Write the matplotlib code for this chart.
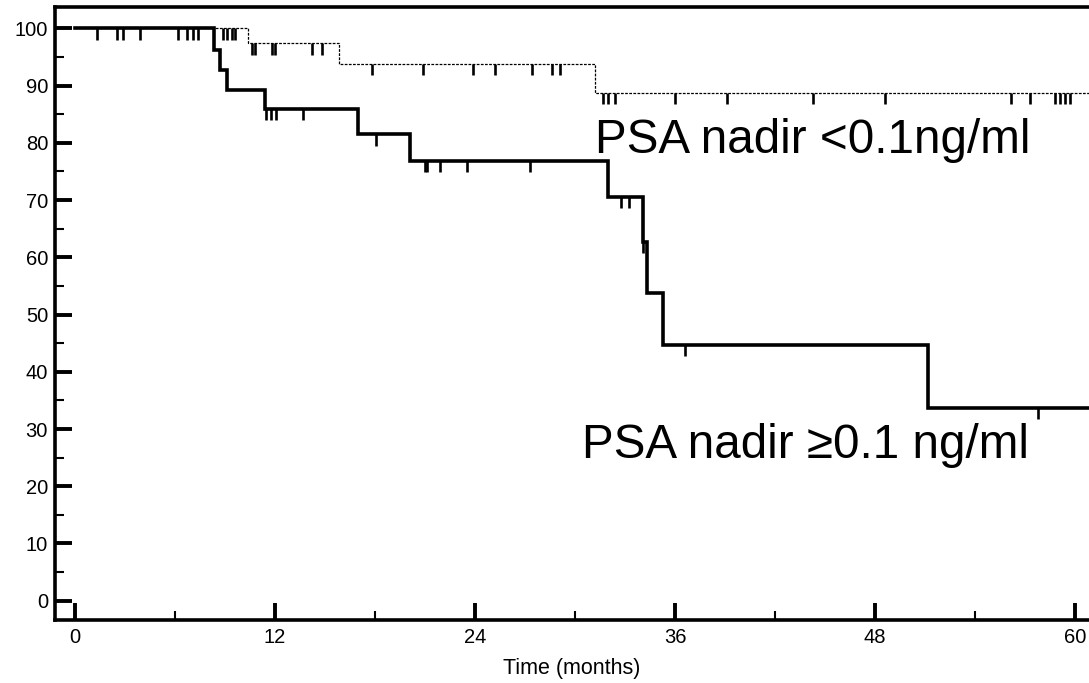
import matplotlib
matplotlib.use('Agg')
import matplotlib.pyplot as plt
import numpy as np

plt.rcParams['font.family'] = ['Liberation Sans', 'DejaVu Sans']

# Curva PSA nadir >= 0.1 ng/ml (linea continua)
t_hi = [0, 8.35, 8.7, 9.1, 11.4, 17.0, 20.1, 32.0, 34.1, 34.3, 35.3, 51.2, 61.0]
s_hi = [100, 96.3, 92.8, 89.3, 85.9, 81.5, 76.9, 70.6, 62.7, 53.7, 44.7, 33.7, 33.7]
cens_hi = [1.3, 2.5, 2.9, 3.9, 6.2, 6.7, 7.1, 7.4, 11.45, 11.75, 12.05, 13.7,
           18.05, 21.0, 21.15, 21.9, 23.5, 27.3, 32.75, 33.25, 34.1, 36.6, 57.8]

# Curva PSA nadir < 0.1 ng/ml (linea discontinua)
t_lo = [0, 10.4, 15.85, 31.2, 61.0]
s_lo = [100, 97.4, 93.8, 88.75, 88.75]
cens_lo = [8.9, 9.1, 9.4, 9.6, 10.6, 10.8, 11.85, 12.0, 14.25, 14.85, 17.8, 20.9,
           23.9, 25.2, 27.4, 28.6, 29.1, 31.7, 32.0, 32.4, 36.0, 39.1, 44.3, 48.6,
           56.15, 57.3, 58.8, 59.1, 59.4, 59.7]

x_major = [0, 12, 24, 36, 48, 60]
y_major = list(range(0, 101, 10))


def surv_at(times, surv, t):
    idx = np.searchsorted(times, t, side='right') - 1
    return np.array(surv)[idx]


fig = plt.figure(figsize=(10.89, 6.83), dpi=100)
ax = fig.add_axes([0.0505, 0.0922, 0.9495, 0.8975])

ax.step(t_hi, s_hi, where='post', color='black', lw=2.6, solid_joinstyle='miter')
ax.step(t_lo, s_lo, where='post', color='black', lw=0.9, linestyle=(0, (2.2, 1.1)))

tick_len = 2.0
y_hi = surv_at(t_hi, s_hi, cens_hi)
ax.vlines(cens_hi, y_hi - tick_len, y_hi, color='black', lw=1.9, capstyle='butt')
y_lo = surv_at(t_lo, s_lo, cens_lo)
ax.vlines(cens_lo, y_lo - tick_len, y_lo, color='black', lw=1.9, capstyle='butt')

ax.text(31.2, 78.2, 'PSA nadir <0.1ng/ml', fontsize=34.3, ha='left', va='baseline')
ax.text(30.4, 25.0, 'PSA nadir \u22650.1 ng/ml', fontsize=34.3, ha='left', va='baseline')

ax.set_xlim(-1.2, 60.84)
ax.set_ylim(-3.37, 103.72)
ax.set_xticks(x_major)
ax.set_xticks([6, 18, 30, 42, 54], minor=True)
ax.set_yticks(y_major)
ax.set_yticks(list(range(5, 100, 10)), minor=True)

ax.tick_params(which='major', direction='in', length=12.5, width=2.8, labelsize=14.5, pad=5)
ax.tick_params(which='minor', direction='in', length=6.3, width=1.5)
ax.tick_params(axis='x', which='major', pad=6)

for side in ['left', 'bottom', 'top']:
    ax.spines[side].set_linewidth(2.6)
ax.spines['right'].set_visible(False)

ax.set_xlabel('Time (months)', fontsize=15.5, labelpad=8)

plt.savefig('out.png', dpi=100)
plt.close()
